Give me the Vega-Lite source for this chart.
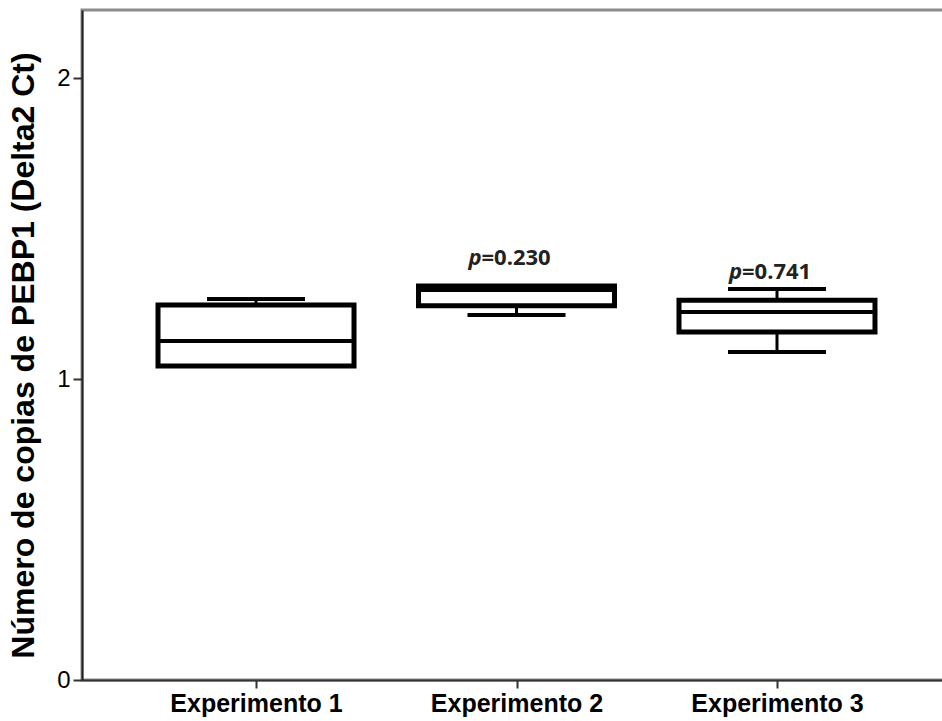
{
  "$schema": "https://vega.github.io/schema/vega-lite/v6.json",
  "width": 869,
  "height": 670,
  "autosize": "none",
  "padding": {"left": 82, "top": 10, "right": 0, "bottom": 41},
  "background": "white",
  "config": {
    "view": {"stroke": "#8c8c8c", "strokeWidth": 3},
    "font": "Liberation Sans"
  },
  "datasets": {
    "boxes": [
      {"grupo": "Experimento 1", "lower": 1.043, "q1": 1.043, "median": 1.126, "q3": 1.246, "upper": 1.266},
      {"grupo": "Experimento 2", "lower": 1.213, "q1": 1.243, "median": 1.296, "q3": 1.309, "upper": 1.309},
      {"grupo": "Experimento 3", "lower": 1.090, "q1": 1.156, "median": 1.223, "q3": 1.262, "upper": 1.299}
    ],
    "pvals": [
      {"grupo": "Experimento 2", "p": "p", "valor": "=0.230", "label_y": 1.402},
      {"grupo": "Experimento 3", "p": "p", "valor": "=0.741", "label_y": 1.355}
    ]
  },
  "encoding": {
    "x": {
      "field": "grupo",
      "type": "nominal",
      "sort": null,
      "scale": {"type": "point", "padding": 0.668},
      "axis": {
        "title": null,
        "labelAngle": 0,
        "labelFont": "Liberation Sans",
        "labelFontSize": 25,
        "labelFontWeight": "bold",
        "labelColor": "black",
        "labelPadding": 3,
        "tickSize": 8,
        "tickWidth": 2,
        "tickColor": "#333",
        "domainColor": "#333",
        "domainWidth": 2,
        "grid": false
      }
    }
  },
  "layer": [
    {
      "data": {"name": "boxes"},
      "mark": {"type": "rule", "color": "black", "strokeWidth": 3},
      "encoding": {
        "y": {
          "field": "lower",
          "type": "quantitative",
          "scale": {"domain": [0, 2.226], "nice": false, "zero": true},
          "axis": {
            "values": [0, 1, 2],
            "format": "d",
            "title": "Número de copias de PEBP1 (Delta2 Ct)",
            "titleFont": "Liberation Sans",
            "titleFontSize": 32,
            "titleFontWeight": "bold",
            "titleColor": "black",
            "titlePadding": 16,
            "titleY": 345,
            "labelFont": "Liberation Sans",
            "labelFontSize": 24,
            "labelColor": "black",
            "labelPadding": 3,
            "tickSize": 9,
            "tickWidth": 2,
            "tickColor": "#333",
            "domainColor": "#222",
            "domainWidth": 2,
            "grid": false
          }
        },
        "y2": {"field": "q1"}
      }
    },
    {
      "data": {"name": "boxes"},
      "mark": {"type": "rule", "color": "black", "strokeWidth": 3},
      "encoding": {
        "y": {"field": "q3", "type": "quantitative"},
        "y2": {"field": "upper"}
      }
    },
    {
      "data": {"name": "boxes"},
      "mark": {"type": "tick", "color": "black", "size": 98, "thickness": 4, "opacity": 1},
      "encoding": {"y": {"field": "upper", "type": "quantitative"}}
    },
    {
      "data": {"name": "boxes"},
      "mark": {"type": "tick", "color": "black", "size": 98, "thickness": 4, "opacity": 1},
      "encoding": {"y": {"field": "lower", "type": "quantitative"}}
    },
    {
      "data": {"name": "boxes"},
      "mark": {"type": "bar", "size": 196, "fill": "white", "stroke": "black", "strokeWidth": 5},
      "encoding": {
        "y": {"field": "q1", "type": "quantitative"},
        "y2": {"field": "q3"}
      }
    },
    {
      "data": {"name": "boxes"},
      "mark": {"type": "tick", "color": "black", "size": 196, "thickness": 4, "opacity": 1},
      "encoding": {"y": {"field": "median", "type": "quantitative"}}
    },
    {
      "data": {"name": "pvals"},
      "mark": {"type": "text", "font": "Open Sans", "fontSize": 22, "fontWeight": "bold", "fontStyle": "italic", "align": "right", "baseline": "middle", "dx": -35, "color": "#222"},
      "encoding": {
        "y": {"field": "label_y", "type": "quantitative"},
        "text": {"field": "p"}
      }
    },
    {
      "data": {"name": "pvals"},
      "mark": {"type": "text", "font": "Open Sans", "fontSize": 22, "fontWeight": "bold", "align": "left", "baseline": "middle", "dx": -35, "color": "#222"},
      "encoding": {
        "y": {"field": "label_y", "type": "quantitative"},
        "text": {"field": "valor"}
      }
    }
  ]
}
